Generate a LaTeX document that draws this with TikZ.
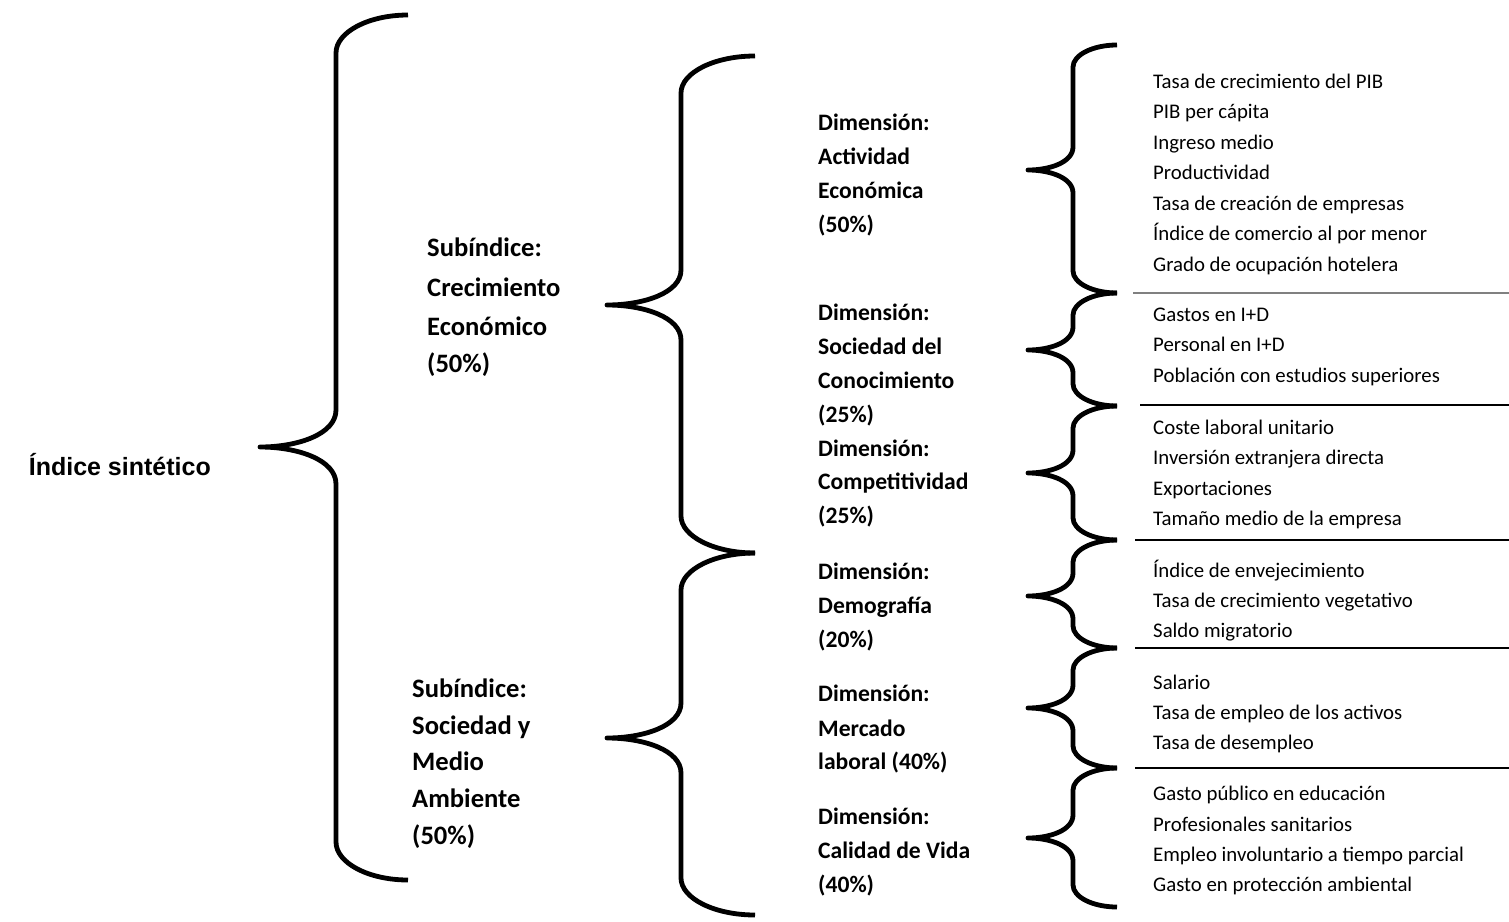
\documentclass[tikz,border=0pt]{standalone}
\usepackage{fontspec}
\setmainfont{Carlito}
\newfontfamily\arialfont{Liberation Sans}
\newcommand\mybrace[8]{% xr xv xt ytop ymid ybot ry ry2
  \draw[bracestyle] (#1,#4) .. controls ({#1-0.55*(#1-#2)},#4) and (#2,{#4+0.45*#7}) .. (#2,{#4+#7})
    -- (#2,{#5-#8}) .. controls (#2,{#5-0.35*#8}) and ({#3+0.5*(#2-#3)},#5) .. (#3,#5)
    .. controls ({#3+0.5*(#2-#3)},#5) and (#2,{#5+0.35*#8}) .. (#2,{#5+#8})
    -- (#2,{#6-#7}) .. controls (#2,{#6-0.45*#7}) and ({#1-0.55*(#1-#2)},#6) .. (#1,#6);}
\tikzset{
  bracestyle/.style={line width=4.8pt, line join=round},
  item/.style={anchor=base west, inner sep=0pt, font=\fontsize{20.8}{22}\selectfont},
  dimlabel/.style={anchor=base west, inner sep=0pt, font=\bfseries\fontsize{23.6}{25}\selectfont},
  sublabel/.style={anchor=base west, inner sep=0pt, font=\bfseries\fontsize{26.6}{28}\selectfont},
  sep/.style={line width=1.3pt},
}
\begin{document}
\begin{tikzpicture}[x=1pt,y=-1pt]
\useasboundingbox (0,0) rectangle (1509,921);
% braces
\mybrace{408}{336}{260}{15}{447}{880}{38}{37}
\mybrace{755}{681}{607}{56}{305}{553}{37}{35}
\mybrace{755}{681}{607}{553}{738}{915}{37}{35}
\mybrace{1117}{1073}{1028}{45}{170}{293}{22}{23}
\mybrace{1117}{1073}{1028}{293}{350}{406}{22}{23}
\mybrace{1117}{1073}{1028}{406}{473}{540}{22}{23}
\mybrace{1117}{1073}{1028}{540}{596}{648}{22}{23}
\mybrace{1117}{1073}{1028}{648}{708}{768}{22}{23}
\mybrace{1117}{1073}{1028}{768}{838}{907}{22}{23}
% separators
\coordinate (s1a) at (1133,293); \coordinate (s1b) at (1509,293);
\coordinate (s2a) at (1140,405); \coordinate (s2b) at (1509,405);
\coordinate (s3a) at (1135,540); \coordinate (s3b) at (1509,540);
\coordinate (s4a) at (1135,648); \coordinate (s4b) at (1509,648);
\coordinate (s5a) at (1135,768); \coordinate (s5b) at (1509,768);
\draw[sep, gray] (s1a) -- (s1b);
\draw[sep] (s2a) -- (s2b);
\draw[sep] (s3a) -- (s3b);
\draw[sep] (s4a) -- (s4b);
\draw[sep] (s5a) -- (s5b);
% main label
\node[anchor=base east, inner sep=0pt, font=\arialfont\bfseries\fontsize{25}{27}\selectfont] (root) at (211,475) {Índice sintético};
% subindices
\foreach \y/\t [count=\n] in {248/Subíndice:,288/Crecimiento,327/Económico,364/(50\%)}
  \node[sublabel] (sa\n) at (427,\y+8) {\t};
\foreach \y/\t [count=\n] in {689/Subíndice:,726/Sociedad y,762/Medio,799/Ambiente,836/(50\%)}
  \node[sublabel] (sb\n) at (412,\y+8) {\t};
% dimensions
\foreach \y/\t [count=\n] in {123/Dimensión:,157/Actividad,191/Económica,225/(50\%),
  313/Dimensión:,347/Sociedad del,381/Conocimiento,415/(25\%),
  449/Dimensión:,482/Competitividad,516/(25\%),
  572/Dimensión:,606/Demografía,640/(20\%),
  694/Dimensión:,729/Mercado,762/laboral (40\%),
  817/Dimensión:,851/Calidad de Vida,885/(40\%)}
  \node[dimlabel] (d\n) at (818,\y+7.5) {\t};
% items
\foreach \y/\t [count=\n] in {82/Tasa de crecimiento del PIB,112/PIB per cápita,143/Ingreso medio,173/Productividad,204/Tasa de creación de empresas,234/Índice de comercio al por menor,265/Grado de ocupación hotelera,
  315/Gastos en I+D,345/Personal en I+D,376/Población con estudios superiores,
  428/Coste laboral unitario,458/Inversión extranjera directa,489/Exportaciones,519/Tamaño medio de la empresa,
  571/Índice de envejecimiento,601/Tasa de crecimiento vegetativo,631/Saldo migratorio,
  683/Salario,713/Tasa de empleo de los activos,743/Tasa de desempleo,
  794/Gasto público en educación,825/Profesionales sanitarios,855/Empleo involuntario a tiempo parcial,885/Gasto en protección ambiental}
  \node[item] (it\n) at (1153,\y+6.5) {\t};
\end{tikzpicture}
\end{document}
